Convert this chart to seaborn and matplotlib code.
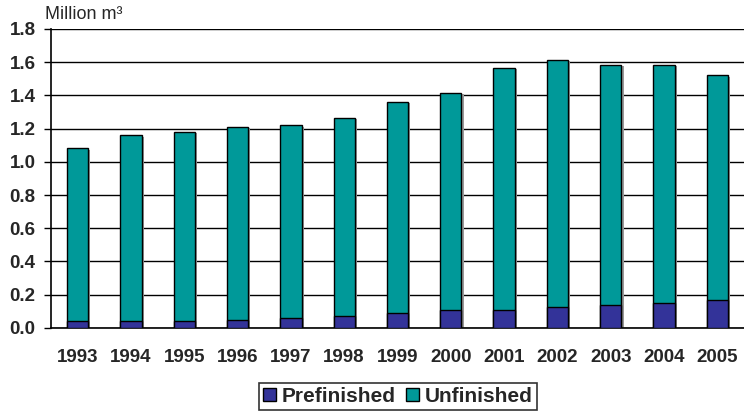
import matplotlib.pyplot as plt
import matplotlib.patches as mpatches
import pandas as pd
import seaborn as sns

# dati
years = ["1993", "1994", "1995", "1996", "1997", "1998", "1999",
         "2000", "2001", "2002", "2003", "2004", "2005"]
prefinished = [0.04, 0.04, 0.04, 0.045, 0.06, 0.07, 0.09,
               0.11, 0.11, 0.128, 0.14, 0.15, 0.17]
unfinished = [1.04, 1.12, 1.14, 1.165, 1.16, 1.195, 1.27,
              1.305, 1.455, 1.485, 1.445, 1.435, 1.35]
y_ticks = [0.0, 0.2, 0.4, 0.6, 0.8, 1.0, 1.2, 1.4, 1.6, 1.8]

teal = '#009999'
navy = '#333399'

df = pd.DataFrame({"year": years, "pre": prefinished, "unf": unfinished})
df["total"] = df["pre"] + df["unf"]

sns.set_style("white")
plt.rcParams['font.family'] = ['Liberation Sans', 'DejaVu Sans']

fig = plt.figure(figsize=(7.44, 4.12), dpi=100)
ax = fig.add_axes([0.0685, 0.204, 0.9315, 0.726])

# ombra grigia dietro le barre
sns.barplot(data=df, x="year", y="total", color='#999999', width=0.4,
            saturation=1, ax=ax, zorder=2, linewidth=0)
for p in ax.patches:
    p.set_x(p.get_x() + 0.04)
    p.set_y(p.get_y() - 0.008)

# barre impilate: totale (teal) e prefinished sopra (blu)
sns.barplot(data=df, x="year", y="total", color=teal, width=0.4,
            saturation=1, ax=ax, edgecolor='black', linewidth=1.0, zorder=3)
sns.barplot(data=df, x="year", y="pre", color=navy, width=0.4,
            saturation=1, ax=ax, edgecolor='black', linewidth=1.0, zorder=4)

ax.set_ylim(0, 1.8)
ax.set_xlim(-0.5, len(years) - 0.5)
ax.set_yticks(y_ticks)
ax.set_yticklabels([f"{v:.1f}" for v in y_ticks], fontsize=13.5, fontweight='bold')
ax.set_xticks(range(len(years)))
ax.set_xticklabels(years, fontsize=13.5, fontweight='bold')
ax.tick_params(axis='x', length=0, pad=15)
ax.set_xticks([i + 0.5 for i in range(-1, len(years) - 1)], minor=True)
ax.tick_params(axis='x', which='minor', length=5, width=1, color='black', direction='out')
ax.tick_params(axis='y', length=5, width=1, color='black', direction='out', left=True, pad=6)
ax.set_xlabel('')
ax.set_ylabel('')

ax.grid(axis='y', color='black', linewidth=1.0, zorder=0)
ax.set_axisbelow(True)
for s in ['top', 'right']:
    ax.spines[s].set_visible(False)
ax.spines['left'].set_color('black')
ax.spines['bottom'].set_color('black')
ax.spines['left'].set_linewidth(1.2)
ax.spines['bottom'].set_linewidth(1.2)

fig.text(0.061, 0.966, "Million m³", fontsize=13, ha='left', va='center')

handles = [mpatches.Patch(facecolor=navy, edgecolor='black', label='Prefinished'),
           mpatches.Patch(facecolor=teal, edgecolor='black', label='Unfinished')]
leg = fig.legend(handles=handles, loc='lower center', bbox_to_anchor=(0.535, 0.0),
                 borderaxespad=0.1,
                 ncol=2, frameon=True, fancybox=False, edgecolor='black',
                 prop={'weight': 'bold', 'size': 15}, handlelength=0.6,
                 handleheight=0.6, handletextpad=0.3, columnspacing=0.5,
                 borderpad=0.2)
leg.get_frame().set_linewidth(1.2)

fig.savefig("out.png", dpi=100)
